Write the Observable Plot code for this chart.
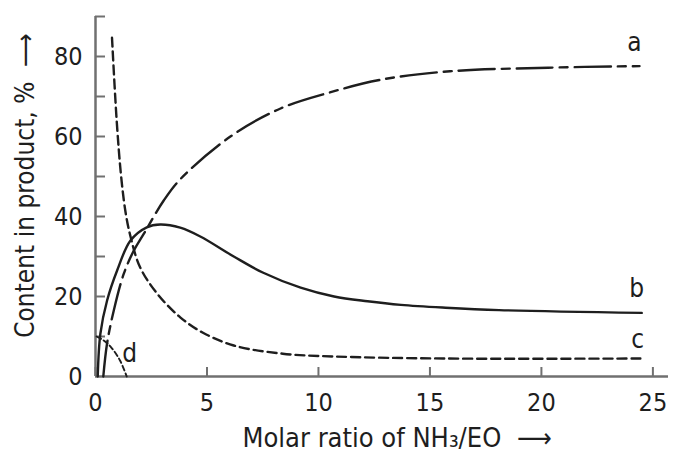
<!DOCTYPE html>
<html><head><meta charset="utf-8">
<script src="https://cdn.jsdelivr.net/npm/d3@7"></script>
<script src="https://cdn.jsdelivr.net/npm/@observablehq/plot@0.6"></script>
<style>
html,body{margin:0;padding:0;background:#fff;}
</style></head><body><div id="chart"></div>
<script>
// Curve a (dash-dot)
const xA = [0.35, 0.52, 0.82, 1.27, 1.72, 2.17, 3.06, 3.8, 6.05, 8.3, 10.5, 12.8, 15.9, 20.3, 24.4];
const yA = [0, 8.3, 16.5, 25.7, 31.5, 35.7, 44, 49.3, 60, 67, 71, 74.2, 76.3, 77.2, 77.6];
// Curve b (solid)
const xB = [0.1, 0.22, 0.52, 0.97, 1.57, 2.3, 2.9, 3.8, 4.7, 6.2, 7.5, 9.2, 10.7, 12.2, 13.7, 15.7, 18.1, 24.5];
const yB = [0, 10.75, 19, 26.5, 34, 37.3, 38, 37.2, 35, 30, 26, 22.2, 20, 18.8, 17.9, 17.2, 16.6, 15.9];
// Curve c (dashed)
const xC = [0.74, 0.95, 1.15, 1.35, 1.57, 2.0, 2.77, 3.8, 4.8, 6.2, 8.4, 10.7, 15.6, 24.5];
const yC = [84.7, 64, 50, 41, 35, 27.3, 20.7, 14.8, 11, 7.75, 5.7, 5, 4.5, 4.5];
// Curve d (fine dashed)
const xD = [0.05, 0.37, 0.7, 1.1, 1.4];
const yD = [10, 9, 7.3, 4, 0];

const curveNames = ["a", "b", "c", "d"];
const xTicks = [0, 5, 10, 15, 20, 25];
const yTickMarks = [10, 20, 30, 40, 50, 60, 70, 80, 90];
const yTickLabels = [0, 20, 40, 60, 80];
const xTitle = "Molar ratio of NH\u2083/EO  \u27F6";
const yTitle = "Content in product, %  \u27F6";

const toRows = (xs, ys) => xs.map((x, i) => ({x, y: ys[i]}));
const A = toRows(xA, yA), B = toRows(xB, yB), C = toRows(xC, yC), D = toRows(xD, yD);

const FONT = '"Liberation Sans Narrow","Arial Narrow","DejaVu Sans Condensed","Liberation Sans",sans-serif';
const INK = "#1e1e1e";
const AX = "#707070";

const chart = Plot.plot({
  width: 675, height: 456,
  marginLeft: 95, marginRight: 7, marginTop: 16, marginBottom: 80,
  style: {fontFamily: FONT, fontSize: "25px", color: INK, background: "#fff"},
  x: {domain: [0, 25.7]},
  y: {domain: [0, 90]},
  marks: [
    Plot.axisX(xTicks, {tickSize: 0, tickPadding: 17, fill: INK, fontSize: 25, label: null}),
    Plot.axisX(xTicks, {tickSize: 9, dy: -9, fill: "none", stroke: AX, strokeWidth: 2, label: null}),
    Plot.axisY(yTickLabels, {tickSize: 0, tickPadding: 13, fill: INK, fontSize: 25, label: null}),
    Plot.axisY(yTickMarks, {tickSize: 10, dx: 10, fill: "none", stroke: AX, strokeWidth: 2, label: null}),
    Plot.ruleX([0], {stroke: AX, strokeWidth: 2.5}),
    Plot.ruleY([0], {stroke: AX, strokeWidth: 2.5}),
    Plot.line(A, {x: "x", y: "y", curve: "catmull-rom", stroke: INK, strokeWidth: 2.4, strokeDasharray: "36,7,8,7"}),
    Plot.line(B, {x: "x", y: "y", curve: "catmull-rom", stroke: INK, strokeWidth: 2.4}),
    Plot.line(C, {x: "x", y: "y", curve: "catmull-rom", stroke: INK, strokeWidth: 2.4, strokeDasharray: "9,5"}),
    Plot.line(D, {x: "x", y: "y", curve: "catmull-rom", stroke: INK, strokeWidth: 1.9, strokeDasharray: "5,3"}),
    Plot.text([A.at(-1)], {x: "x", y: "y", text: () => curveNames[0], dx: -5, dy: -23, fill: INK, fontSize: 26}),
    Plot.text([B.at(-1)], {x: "x", y: "y", text: () => curveNames[1], dx: -5, dy: -24, fill: INK, fontSize: 26}),
    Plot.text([C.at(-1)], {x: "x", y: "y", text: () => curveNames[2], dx: -4, dy: -19, fill: INK, fontSize: 26}),
    Plot.text([D[0]], {x: "x", y: "y", text: () => curveNames[3], dx: 33, dy: 17, fill: INK, fontSize: 26}),
    Plot.text([xTitle], {text: d => d, frameAnchor: "bottom", textAnchor: "middle", lineAnchor: "middle", dx: 15, dy: 62, fill: INK, fontSize: 27}),
    Plot.text([yTitle], {text: d => d, frameAnchor: "left", textAnchor: "middle", lineAnchor: "middle", rotate: -90, dx: -70, dy: -11, fill: INK, fontSize: 26})
  ]
});
document.getElementById("chart").appendChild(chart);
</script>
</body></html>
